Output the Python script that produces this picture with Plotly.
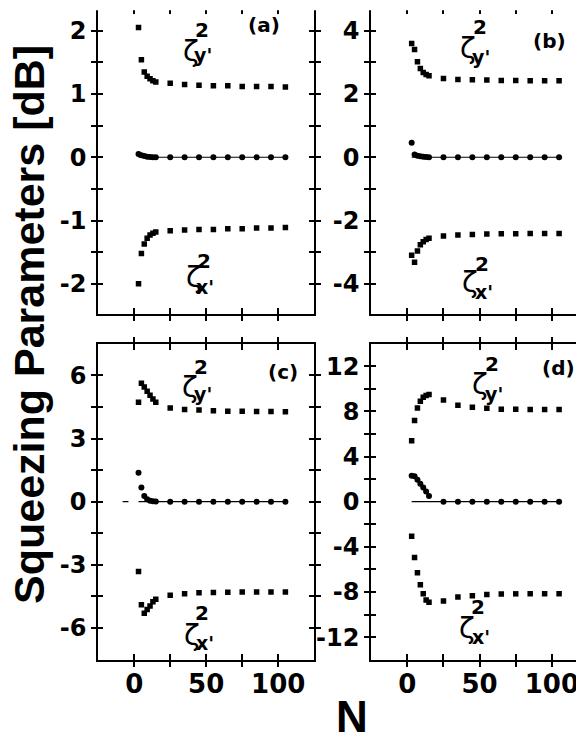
import plotly.graph_objects as go

W, H = 584, 738
OFF = 8  # the page body margin shifts the figure by this many pixels

# ---------------- data ----------------
N = [3, 5, 7, 9, 11, 13, 15, 25, 35, 45, 55, 65, 75, 85, 95, 105]

a_up = [2.05, 1.54, 1.35, 1.28, 1.24, 1.21, 1.19, 1.17, 1.15, 1.14, 1.13, 1.13, 1.12, 1.12, 1.12, 1.11]
a_mid = [0.05, 0.03, 0.02, 0.01, 0.005, 0.0, 0.0, 0, 0, 0, 0, 0, 0, 0, 0, 0]
a_low = [-2.0, -1.52, -1.37, -1.28, -1.23, -1.2, -1.18, -1.16, -1.15, -1.14, -1.14, -1.13, -1.13, -1.12, -1.12, -1.11]

b_up = [3.6, 3.41, 3.02, 2.81, 2.68, 2.62, 2.58, 2.49, 2.46, 2.45, 2.44, 2.43, 2.43, 2.42, 2.42, 2.42]
b_mid = [0.46, 0.09, 0.05, 0.03, 0.02, 0.01, 0.0, 0, 0, 0, 0, 0, 0, 0, 0, 0]
b_low = [-3.1, -3.32, -2.96, -2.77, -2.67, -2.6, -2.56, -2.49, -2.46, -2.44, -2.43, -2.42, -2.42, -2.41, -2.41, -2.41]

c_up = [4.72, 5.62, 5.45, 5.25, 5.05, 4.88, 4.72, 4.45, 4.38, 4.35, 4.32, 4.3, 4.29, 4.28, 4.28, 4.27]
c_mid = [1.38, 0.67, 0.27, 0.11, 0.05, 0.02, 0.01, 0, 0, 0, 0, 0, 0, 0, 0, 0]
c_low = [-3.32, -4.9, -5.3, -5.12, -4.95, -4.75, -4.63, -4.45, -4.37, -4.33, -4.31, -4.3, -4.29, -4.29, -4.29, -4.29]

d_up = [5.4, 7.2, 8.3, 8.9, 9.25, 9.4, 9.5, 9.0, 8.55, 8.36, 8.27, 8.2, 8.18, 8.17, 8.17, 8.16]
d_mid = [2.3, 2.25, 1.95, 1.6, 1.25, 0.9, 0.5, 0, 0, 0, 0, 0, 0, 0, 0, 0]
d_low = [-3.05, -4.95, -6.3, -7.35, -8.15, -8.7, -8.9, -8.8, -8.45, -8.33, -8.22, -8.18, -8.16, -8.15, -8.15, -8.15]

zero_x = [3, 105]
zero_y = [0, 0]
c_dash_x = [-8, -4]
c_dash_y = [0, 0]

x_ticks = [0, 25, 50, 75, 100]
x_labels = ["0", "", "50", "", "100"]

a_ticks = [-2, -1.5, -1, -0.5, 0, 0.5, 1, 1.5, 2]
a_labels = ["-2", "", "-1", "", "0", "", "1", "", "2"]
b_ticks = [-4, -3, -2, -1, 0, 1, 2, 3, 4]
b_labels = ["-4", "", "-2", "", "0", "", "2", "", "4"]
c_ticks = [-6, -4.5, -3, -1.5, 0, 1.5, 3, 4.5, 6]
c_labels = ["-6", "", "-3", "", "0", "", "3", "", "6"]
d_ticks = [-12, -10, -8, -6, -4, -2, 0, 2, 4, 6, 8, 10, 12]
d_labels = ["-12", "", "-8", "", "-4", "", "0", "", "4", "", "8", "", "12"]

panel_names = ["(a)", "(b)", "(c)", "(d)"]
y_title = "Squeezing Parameters [dB]"
x_title = "N"

# ---------------- layout helpers ----------------
def px(x, y):
    """page pixel -> paper coords (figure is offset by OFF px)"""
    return (x - OFF) / W, 1 - (y - OFF) / H

panels = [
    dict(up=a_up, mid=a_mid, low=a_low, yt=a_ticks, yl=a_labels,
         xdom=(98.2, 314.2), ydom=(313.5, OFF), xr=[-25, 125], yr=[-2.47, 2.36]),
    dict(up=b_up, mid=b_mid, low=b_low, yt=b_ticks, yl=b_labels,
         xdom=(371.2, 588), ydom=(313.5, OFF), xr=[-25, 125], yr=[-4.94, 4.72]),
    dict(up=c_up, mid=c_mid, low=c_low, yt=c_ticks, yl=c_labels,
         xdom=(98.2, 314.2), ydom=(660, 344), xr=[-25, 125], yr=[-7.52, 7.49]),
    dict(up=d_up, mid=d_mid, low=d_low, yt=d_ticks, yl=d_labels,
         xdom=(371.2, 588), ydom=(660, 344), xr=[-25, 125], yr=[-14.02, 13.97]),
]

fig = go.Figure()
layout = dict(width=W, height=H, margin=dict(l=0, r=0, t=0, b=0, pad=0, autoexpand=False),
              paper_bgcolor="white", plot_bgcolor="white", showlegend=False)

tickfont_y = dict(family="DejaVu Sans", size=24, color="black", weight="bold")
tickfont_x = dict(family="DejaVu Sans", size=26, color="black", weight="bold")

for i, p in enumerate(panels):
    k = i + 1
    xs = "" if k == 1 else str(k)
    xn, yn = "x" + xs, "y" + xs
    xo, yo = "x" + str(k + 4), "y" + str(k + 4)

    fig.add_trace(go.Scatter(x=zero_x, y=zero_y, mode="lines",
                             line=dict(color="black", width=1.2),
                             xaxis=xn, yaxis=yn, hoverinfo="skip"))
    if k == 3:
        fig.add_trace(go.Scatter(x=c_dash_x, y=c_dash_y, mode="lines",
                                 line=dict(color="black", width=1.2),
                                 xaxis=xn, yaxis=yn, hoverinfo="skip"))
    for ser in (p["up"], p["low"]):
        fig.add_trace(go.Scatter(x=N, y=ser, mode="markers",
                                 marker=dict(symbol="square", size=5.5, color="black"),
                                 xaxis=xn, yaxis=yn))
    fig.add_trace(go.Scatter(x=N, y=p["mid"], mode="markers",
                             marker=dict(symbol="circle", size=6, color="black"),
                             xaxis=xn, yaxis=yn))
    # dummy trace for the inner-tick overlay axes
    fig.add_trace(go.Scatter(x=[None], y=[None], mode="markers",
                             xaxis=xo, yaxis=yo, hoverinfo="skip"))

    x0, _ = px(p["xdom"][0], 0)
    x1, _ = px(p["xdom"][1], 0)
    _, y0 = px(0, p["ydom"][0])
    _, y1 = px(0, p["ydom"][1])
    xd = [max(0, x0), min(1, x1)]
    yd = [max(0, y0), min(1, y1)]

    common = dict(showgrid=False, zeroline=False, tickcolor="black", tickwidth=1.5,
                  automargin=False)
    layout["xaxis" + xs] = dict(domain=xd, range=p["xr"], anchor=yn,
                                tickmode="array", tickvals=x_ticks, ticktext=x_labels,
                                ticks="outside", ticklen=5, mirror="ticks",
                                showline=True, linewidth=2, linecolor="black",
                                ticklabelstandoff=-5,
                                showticklabels=(k >= 3), tickfont=tickfont_x, **common)
    layout["yaxis" + xs] = dict(domain=yd, range=p["yr"], anchor=xn,
                                tickmode="array", tickvals=p["yt"], ticktext=p["yl"],
                                ticks="outside", ticklen=5, mirror="ticks",
                                showline=True, linewidth=2, linecolor="black",
                                showticklabels=True, tickfont=tickfont_y, **common)
    layout["xaxis" + str(k + 4)] = dict(overlaying=xn, range=p["xr"], anchor=yo,
                                        tickmode="array", tickvals=x_ticks,
                                        ticks="inside", ticklen=6, mirror="ticks",
                                        showline=False, showticklabels=False, **common)
    layout["yaxis" + str(k + 4)] = dict(overlaying=yn, range=p["yr"], anchor=xo,
                                        tickmode="array", tickvals=p["yt"],
                                        ticks="inside", ticklen=5, mirror="ticks",
                                        showline=False, showticklabels=False, **common)

fig.update_layout(**layout)

# hide the top frame line of the upper panels (it lies outside the reference crop)
fig.add_shape(type="rect", xref="paper", yref="paper", x0=0, x1=1,
              y0=1 - 2.2 / H, y1=1.01, fillcolor="white", line=dict(width=0), layer="above")

# ---------------- annotations ----------------
def ann(text, x, y, size, bold=True, family="DejaVu Sans", angle=0):
    ax, ay = px(x, y)
    fig.add_annotation(text=text, x=ax, y=ay, xref="paper", yref="paper",
                       xanchor="center", yanchor="middle", showarrow=False,
                       textangle=angle,
                       font=dict(family=family, size=size, color="black",
                                 weight="bold" if bold else "normal"))

# panel labels
label_pos = [(264, 25), (549, 41), (283, 372), (558, 368)]
for t, (x, y) in zip(panel_names, label_pos):
    ann(t, x, y, 20)

# zeta labels: (zeta center, sup center, sub center, subscript text)
zetas = [
    ((191, 51), (202, 30), (203, 55), "y'"),
    ((194, 277), (204, 261), (205, 287), "x'"),
    ((468, 48), (480, 27), (481, 57), "y'"),
    ((470, 282), (482, 264), (484, 292), "x'"),
    ((190, 387), (201, 367), (203, 394), "y'"),
    ((192, 635), (202, 613), (205, 643), "x'"),
    ((480, 384), (492, 364), (494, 394), "y'"),
    ((467, 628), (478, 607), (481, 637), "x'"),
]
for (zc, sc, bc, sub) in zetas:
    ann("ζ", zc[0], zc[1], 29, bold=False)
    ann("2", sc[0], sc[1], 20)
    ann(sub, bc[0], bc[1], 19)

# axis titles
ann(y_title, 29, 325, 43, family="Liberation Sans", angle=-90)
ann(x_title, 352, 716, 44, family="Liberation Sans")

fig.write_html("out.html")
